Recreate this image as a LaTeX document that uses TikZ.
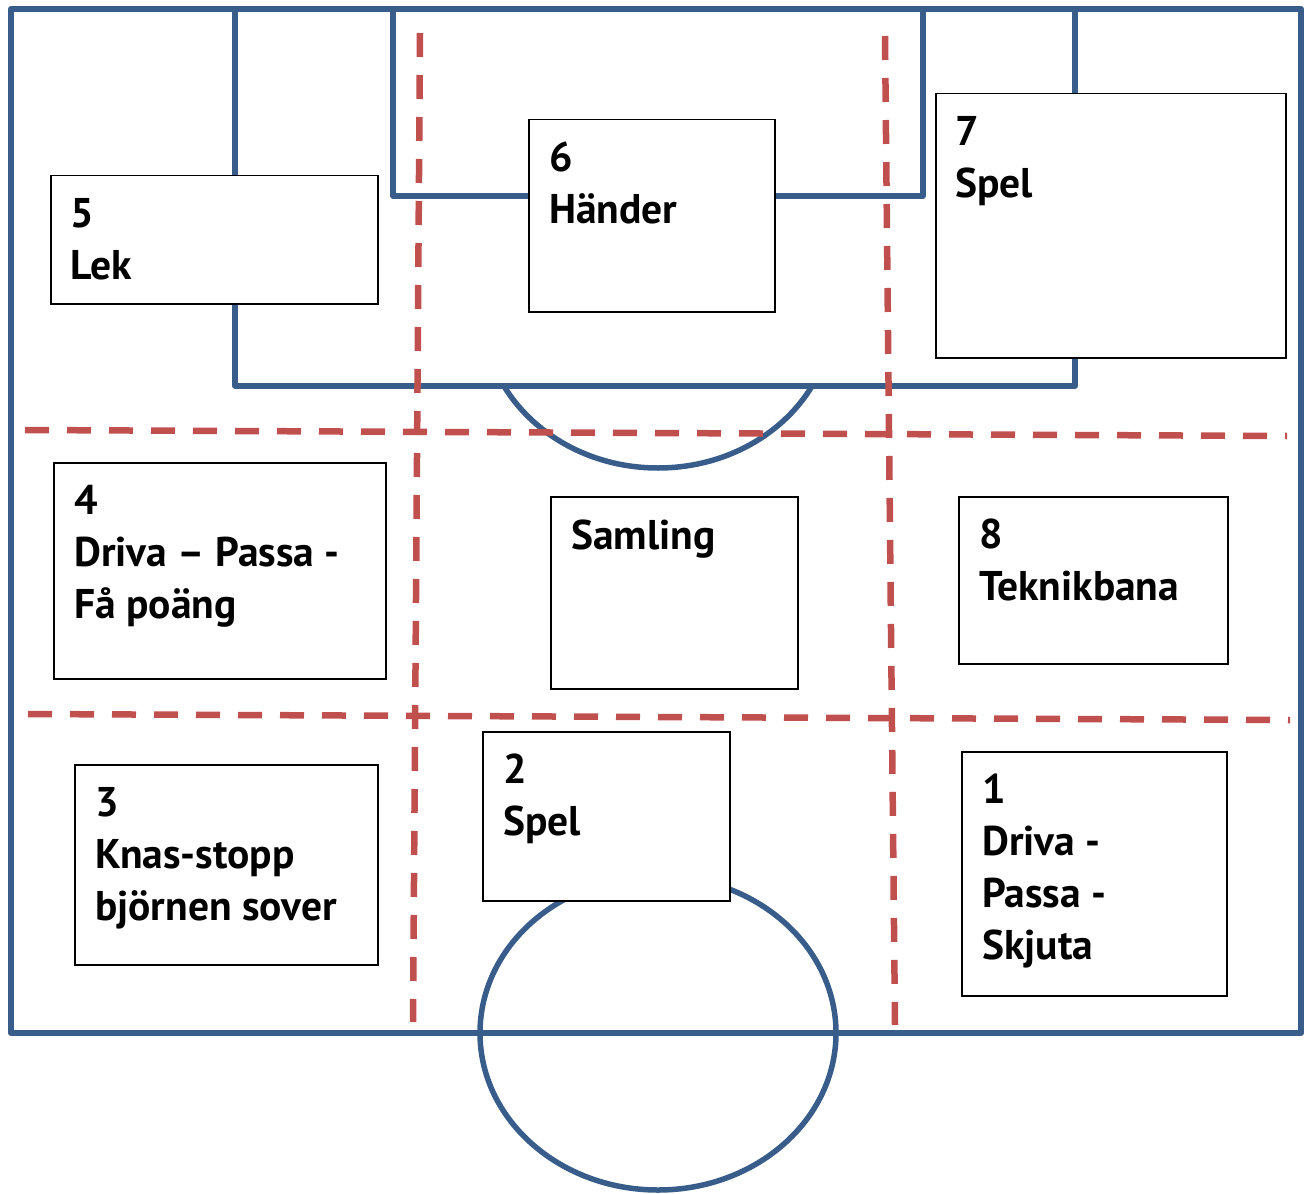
\documentclass[tikz,border=0pt]{standalone}
\usepackage{fontspec}
\setmainfont{PT Sans}
\usetikzlibrary{calc}
\definecolor{fieldblue}{RGB}{56,93,138}
\definecolor{zonered}{RGB}{192,80,77}
\newcommand\fstrut{\rule{0pt}{32pt}}
\begin{document}
\begin{tikzpicture}[x=1pt,y=-1pt,
  field/.style={draw=fieldblue, line width=5.5pt, line join=round},
  zone/.style={draw=zonered, line width=6.5pt, dash pattern=on 24pt off 18pt},
  station/.style={draw=black, line width=1.5pt, fill=white, inner sep=0pt, anchor=north west},
  stationtext/.style={anchor=north west, inner sep=0pt, align=left,
    font=\fontsize{41.5}{52}\selectfont\bfseries}]
\useasboundingbox (0,0) rectangle (1308,1193);

% field lines
\draw[field, line width=6pt] (11,9) rectangle (1301,1033);
\draw[field] (235,9) -- (235,386) -- (1075,386) -- (1075,9);
\draw[field] (393,11) -- (393,196) -- (923,196) -- (923,11);
\begin{scope}
  \clip (400,386) rectangle (920,520);
  \draw[field] (658,312) ellipse [x radius=175pt, y radius=156pt];
\end{scope}
\draw[field] (658,1033) ellipse [x radius=178pt, y radius=157pt];

% zone dividers
\draw[zone] (25,430) -- (1287,436);
\draw[zone] (28,714) -- (1290,720);
\draw[zone] (420,33) -- (413,1022);
\draw[zone] (885,36) -- (895,1025);

% stations
\node[station, minimum width=327pt, minimum height=128pt] (b5) at (50,175) {};
\node[station, minimum width=246pt, minimum height=192pt] (b6) at (528,119) {};
\node[station, minimum width=350pt, minimum height=264pt] (b7) at (935,93) {};
\node[station, minimum width=332pt, minimum height=216pt] (b4) at (53,462) {};
\node[station, minimum width=247pt, minimum height=192pt] (bs) at (550,496) {};
\node[station, minimum width=269pt, minimum height=167pt] (b8) at (958,496) {};
\node[station, minimum width=303pt, minimum height=200pt] (b3) at (74,764) {};
\node[station, minimum width=247pt, minimum height=169pt] (b2) at (482,731) {};
\node[station, minimum width=265pt, minimum height=244pt] (b1) at (961,751) {};

\node[stationtext] (t5) at ($(b5.north west)+(20,20)$) {\fstrut 5\\Lek};
\node[stationtext] (t6) at ($(b6.north west)+(21,20)$) {\fstrut 6\\Händer};
\node[stationtext] (t7) at ($(b7.north west)+(20,20)$) {\fstrut 7\\Spel};
\node[stationtext] (t4) at ($(b4.north west)+(21,20)$) {\fstrut 4\\Driva – Passa -\\Få poäng};
\node[stationtext] (ts) at ($(bs.north west)+(21,21)$) {\fstrut Samling};
\node[stationtext] (t8) at ($(b8.north west)+(21,20)$) {\fstrut 8\\Teknikbana};
\node[stationtext] (t3) at ($(b3.north west)+(21,20)$) {\fstrut 3\\Knas-stopp\\björnen sover};
\node[stationtext] (t2) at ($(b2.north west)+(21,20)$) {\fstrut 2\\Spel};
\node[stationtext] (t1) at ($(b1.north west)+(21,20)$) {\fstrut 1\\Driva -\\Passa -\\Skjuta};
\end{tikzpicture}
\end{document}
